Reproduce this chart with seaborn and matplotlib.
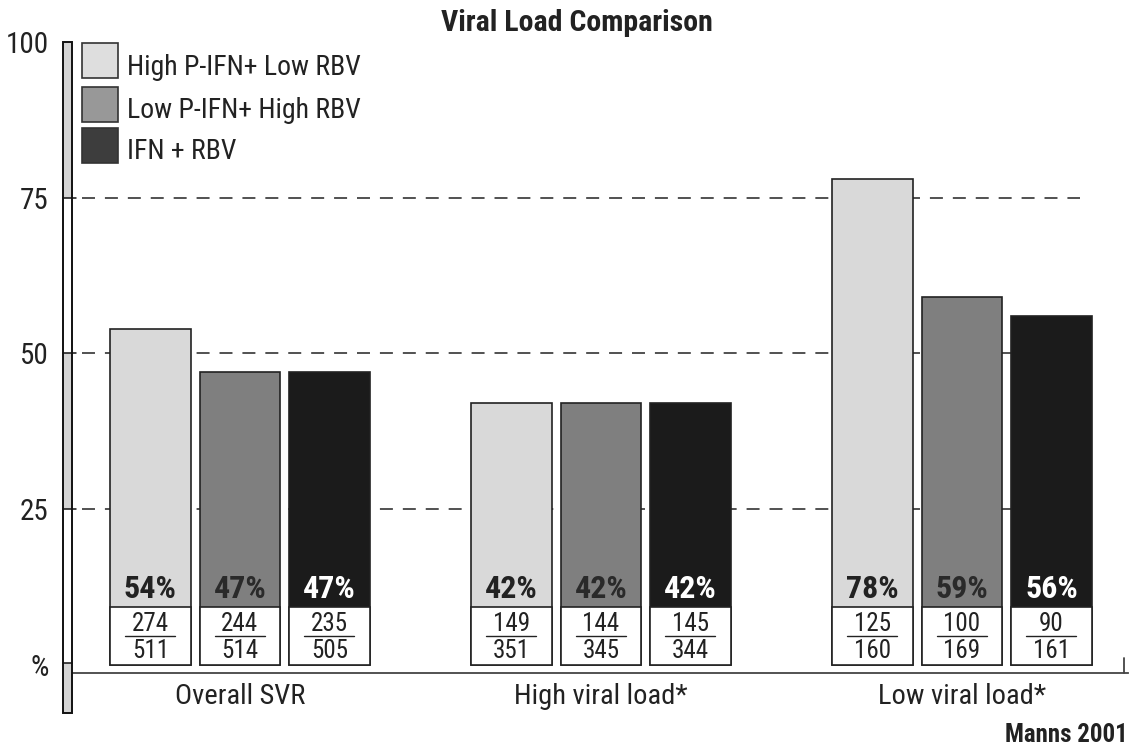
import matplotlib
matplotlib.use("Agg")
import matplotlib.pyplot as plt
from matplotlib import font_manager as fm
from matplotlib.patches import Rectangle
from matplotlib.transforms import blended_transform_factory
import pandas as pd
import seaborn as sns

# ---- data -------------------------------------------------------------
groups = ["Overall SVR", "High viral load*", "Low viral load*"]
regimens = ["High P-IFN+ Low RBV", "Low P-IFN+ High RBV", "IFN + RBV"]
svr_pct = {
    "High P-IFN+ Low RBV": [54, 42, 78],
    "Low P-IFN+ High RBV": [47, 42, 59],
    "IFN + RBV": [47, 42, 56],
}
responders = {
    "High P-IFN+ Low RBV": [274, 149, 125],
    "Low P-IFN+ High RBV": [244, 144, 100],
    "IFN + RBV": [235, 145, 90],
}
patients = {
    "High P-IFN+ Low RBV": [511, 351, 160],
    "Low P-IFN+ High RBV": [514, 345, 169],
    "IFN + RBV": [505, 344, 161],
}
ytick_values = [0, 25, 50, 75, 100]
ytick_labels = ["%", "25", "50", "75", "100"]
title = "Viral Load Comparison"
source = "Manns 2001"

# ---- style ------------------------------------------------------------
bar_colors = {"High P-IFN+ Low RBV": "#d9d9d9",
              "Low P-IFN+ High RBV": "#7f7f7f",
              "IFN + RBV": "#1b1b1b"}
legend_colors = ["#dedede", "#989898", "#3d3d3d"]
pct_text_colors = ["#222222", "#2a2a2a", "#ffffff"]
ink = "#222222"

sns.set_theme(style="white")
names = {f.name for f in fm.fontManager.ttflist}
family = "Liberation Sans"
for cand in ["Liberation Sans Narrow", "Arial Narrow", "Roboto Condensed"]:
    if cand in names:
        family = cand
        break
plt.rcParams["font.family"] = [family, "DejaVu Sans"]

rows = []
for reg in regimens:
    for g, v in zip(groups, svr_pct[reg]):
        rows.append({"group": g, "regimen": reg, "svr": v})
df = pd.DataFrame(rows)

W, H = 1133, 748
fig = plt.figure(figsize=(W / 100, H / 100), dpi=100)
ax_left, ax_right, ax_top, ax_bottom = 72, 1128, 42, 673
ax_w = ax_right - ax_left
ax = fig.add_axes([ax_left / W, 1 - ax_bottom / H,
                   ax_w / W, (ax_bottom - ax_top) / H])

sns.barplot(data=df, x="group", y="svr", hue="regimen", order=groups,
            hue_order=regimens, palette=bar_colors, width=0.744, gap=0.1,
            edgecolor=ink, linewidth=1.2, legend=False, ax=ax, zorder=3)

ax.set_xlim(-0.465, 2.46)
ax.set_ylim(-1.3, 100)
ax.set_xlabel("")
ax.set_ylabel("")

# dashed reference lines
x0 = 10 / ax_w
x1 = (1080 - ax_left) / ax_w
for yv in [25, 50, 75]:
    ax.axhline(yv, xmin=x0, xmax=x1, color=ink, lw=1.1,
               linestyle=(0, (8.5, 6.5)), zorder=1)

# spines
for s in ["left", "right", "top"]:
    ax.spines[s].set_visible(False)
ax.spines["bottom"].set_color("#444444")
ax.spines["bottom"].set_linewidth(1.3)

# right end tick of baseline
ax.plot([0.9965, 0.9965], [0, 15 / (ax_bottom - ax_top)], transform=ax.transAxes,
        color="#444444", lw=1.3, clip_on=False)

# y ticks
ax.set_yticks(ytick_values)
ax.set_yticklabels(ytick_labels, fontsize=21, color=ink)
ax.tick_params(axis="y", length=0, pad=17)
ax.tick_params(axis="x", length=0, pad=7, labelsize=20.5, labelcolor=ink)

# banded gauge along the value axis
gauge_tr = blended_transform_factory(ax.transAxes, ax.transData)
gx = -9 / ax_w
gw = 9 / ax_w
bands = [(75, 100, "#d4d4d4"), (50, 75, "#ffffff"), (25, 50, "#d4d4d4"),
         (0.3, 25, "#ffffff"), (-7.7, 0.3, "#d4d4d4")]
for lo, hi, c in bands:
    ax.add_artist(Rectangle((gx, lo), gw, hi - lo, transform=gauge_tr,
                            facecolor=c, edgecolor="none", clip_on=False, zorder=4))
ax.add_artist(Rectangle((gx, -7.7), gw, 107.7, transform=gauge_tr,
                        facecolor="none", edgecolor="#111111", lw=1.4,
                        clip_on=False, zorder=5))
for yv in [75, 50, 25]:
    ax.plot([gx, 4 / ax_w], [yv, yv], transform=gauge_tr,
            color="#111111", lw=1.1, clip_on=False, zorder=5)
ax.plot([gx, 0], [0.3, 0.3], transform=gauge_tr, color="#111111", lw=1.1,
        clip_on=False, zorder=5)

# annotations: percentage + responders / patients box
box_top = 9.3
half_line = 25 / 361
for hi, (reg, cont) in enumerate(zip(regimens, ax.containers)):
    for gi, bar in enumerate(cont):
        bx = bar.get_x()
        bw = bar.get_width()
        cx = bx + bw / 2
        ax.add_patch(Rectangle((bx, 0), bw, box_top, facecolor="white",
                               edgecolor=ink, lw=1.2, zorder=4))
        ax.text(cx, 10.8, f"{svr_pct[reg][gi]}%", ha="center", va="baseline",
                fontsize=23, fontweight="bold", color=pct_text_colors[hi], zorder=6)
        ax.text(cx, 5.4, str(responders[reg][gi]), ha="center", va="baseline",
                fontsize=18, color=ink, zorder=6)
        ax.plot([cx - half_line, cx + half_line], [4.65, 4.65], color=ink,
                lw=1.0, zorder=6)
        ax.text(cx, 1.1, str(patients[reg][gi]), ha="center", va="baseline",
                fontsize=18, color=ink, zorder=6)

# legend: swatch boxes with labels
swatch_tops = [43, 87, 128]
baselines = [75, 118, 159]
for c, top, base, label in zip(legend_colors, swatch_tops, baselines, regimens):
    fig.patches.append(Rectangle((82 / W, 1 - (top + 35) / H), 36 / W, 35 / H,
                                 transform=fig.transFigure, facecolor=c,
                                 edgecolor="#333333", lw=1.2))
    fig.text(127 / W, 1 - base / H, label, ha="left", va="baseline",
             fontsize=20, color=ink)

fig.text(577 / W, 1 - 23 / H, title, ha="center", va="center", fontsize=21.5,
         fontweight="bold", color=ink)
fig.text(1128 / W, 1 - 735 / H, source, ha="right", va="center", fontsize=18,
         fontweight="bold", color=ink)

fig.savefig("out.png", dpi=100, facecolor="white")
